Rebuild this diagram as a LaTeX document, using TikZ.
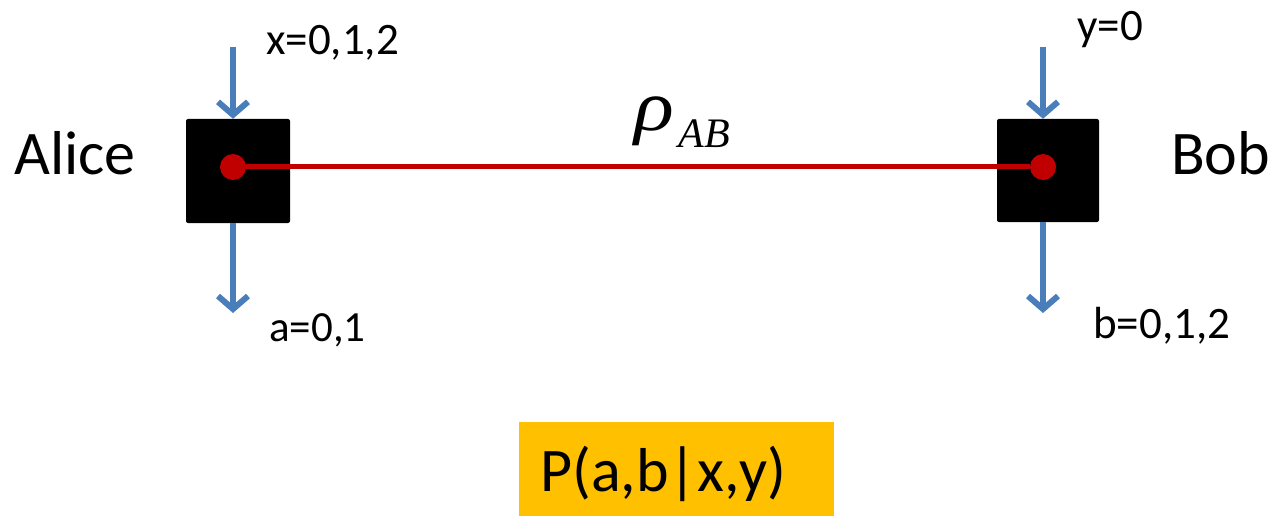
\documentclass[tikz,border=0pt]{standalone}
\usepackage{fontspec}
\setmainfont{Carlito}
\newfontfamily\rhofont{Liberation Serif}
\usetikzlibrary{arrows.meta}
\definecolor{arrowblue}{HTML}{4A7EBB}
\definecolor{linkred}{HTML}{C00000}
\definecolor{probyellow}{HTML}{FFC000}
\tikzset{
  blackbox/.style={draw=none,fill=black,rounded corners=2pt,minimum width=104pt,minimum height=104pt,inner sep=0pt},
  reddot/.style={circle,fill=linkred,draw=none,minimum size=26pt,inner sep=0pt},
  redline/.style={draw=linkred,line width=5pt},
  bluearrow/.style={draw=arrowblue,line width=6pt,-{Straight Barb[length=13pt,width=30pt,line width=6pt]}},
  bigname/.style={inner sep=0pt,anchor=base west,font=\fontsize{62}{62}\selectfont},
  smalllabel/.style={inner sep=0pt,anchor=base west,font=\fontsize{45}{45}\selectfont},
}
\begin{document}
\begin{tikzpicture}[x=1pt,y=-1pt]
\useasboundingbox (0,0) rectangle (1272,516);
% boxes
\node[blackbox] (alicebox) at (238,171) {};
\node[blackbox,minimum width=102pt,minimum height=103pt] (bobbox) at (1048,170.5) {};
% dots
\node[reddot] (alicedot) at (233,167) {};
\node[reddot] (bobdot) at (1043,167) {};
\draw[redline] (alicedot) -- (bobdot);
% arrows
\coordinate (ain) at (233,47);
\coordinate (aout) at (233,313);
\coordinate (bin) at (1043,47);
\coordinate (bout) at (1043,313);
\draw[bluearrow] (ain) -- (ain |- alicebox.north);
\draw[bluearrow] (aout |- alicebox.south) -- (aout);
\draw[bluearrow] (bin) -- (bin |- bobbox.north);
\draw[bluearrow] (bout |- bobbox.south) -- (bout);
% names
\node[bigname] (alicename) at (14,175) {Alice};
\node[bigname] (bobname) at (1171,175) {Bob};
% labels
\node[smalllabel] (xlabel) at (266,55) {x=0,1,2};
\node[smalllabel] (ylabel) at (1077,41) {y=0};
\node[smalllabel,font=\fontsize{43}{43}\selectfont] (alabel) at (269,341) {a=0,1};
\node[smalllabel] (blabel) at (1093,338) {b=0,1,2};
% state
\node[inner sep=0pt,anchor=base west,font=\rhofont\itshape] (rho) at (634,131)
  {\scalebox{1.15}[1]{\fontsize{72}{72}\selectfont ρ}\kern5pt\raisebox{-17pt}{\fontsize{42}{42}\selectfont AB}};
% probability box
\node[fill=probyellow,draw=none,minimum width=315pt,minimum height=96pt,inner sep=0pt] (probbox) at (676.5,470) {};
\node[inner sep=0pt,anchor=base west,font=\fontsize{62}{62}\selectfont] (prob) at (540,491) {P(a,b|x,y)};
\end{tikzpicture}
\end{document}
